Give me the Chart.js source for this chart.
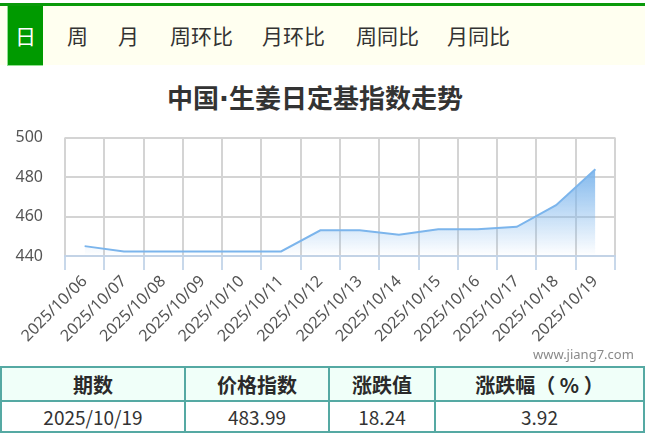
<!DOCTYPE html>
<html>
<head>
<meta charset="utf-8">
<script src="https://cdn.jsdelivr.net/npm/chart.js@4.4.1/dist/chart.umd.min.js"></script>
<style>
    body { margin: 0; width: 645px; height: 440px; position: relative; background: #fff; font-family: "Noto Sans", "Noto Sans CJK SC", sans-serif; color: #333; overflow: hidden; }
    .topline { position: absolute; left: 0; top: 3px; width: 645px; height: 3px; background: #0a9a0a; }
    .nav { position: absolute; left: 0; top: 6px; width: 645px; height: 59px; background: #fffff0; }
    .nav span { position: absolute; top: 0; line-height: 59px; font-size: 21px; font-family: "Noto Sans CJK SC", sans-serif; color: #333; }
    .nav .on { left: 7px; width: 36px; text-align: center; background: #009a00; color: #fff; border-left: 1px solid #8fe08f; border-bottom: 1px solid #8fe08f; box-sizing: border-box; height: 60px; }
    .title { position: absolute; left: 0; top: 78px; width: 630px; text-align: center; font-size: 26px; font-weight: bold; font-family: "Noto Sans CJK SC", sans-serif; color: #333; }
    .title .dot { font-family: "DejaVu Sans", sans-serif; }
    .chartbox { position: absolute; left: 0; top: 106px; width: 645px; height: 244px; }
    .mark { position: absolute; left: 533px; top: 345px; font-size: 13px; color: #8a8a8a; }
    table { position: absolute; left: 0; top: 366px; width: 645px; border-collapse: collapse; }
    td { border: 2px solid #55a9a3; text-align: center; font-family: "Noto Sans CJK SC", sans-serif; }
    tr.head td { background: #f0fff9; font-weight: bold; font-size: 20px; height: 32px; padding: 0; color: #2a2a2a; }
    tr.row td { font-size: 19px; height: 29px; padding: 0; }
</style>
</head>
<body>
<div class="topline"></div>
<div class="nav">
    <span class="on">日</span>
    <span style="left:67px">周</span>
    <span style="left:118px">月</span>
    <span style="left:170px">周环比</span>
    <span style="left:262px">月环比</span>
    <span style="left:356px">周同比</span>
    <span style="left:447px">月同比</span>
</div>
<div class="title">中国<span class="dot">·</span>生姜日定基指数走势</div>
<div class="chartbox"><canvas id="lineChart"></canvas></div>
<div class="mark">www.jiang7.com</div>
<table>
    <tr class="head"><td style="width:182px">期数</td><td style="width:142px">价格指数</td><td style="width:104px">涨跌值</td><td>涨跌幅（ % ）</td></tr>
    <tr class="row"><td>2025/10/19</td><td>483.99</td><td>18.24</td><td>3.92</td></tr>
</table>
<script>
const dates = ['2025/10/06', '2025/10/07', '2025/10/08', '2025/10/09', '2025/10/10', '2025/10/11', '2025/10/12',
    '2025/10/13', '2025/10/14', '2025/10/15', '2025/10/16', '2025/10/17', '2025/10/18', '2025/10/19'];
const indexValues = [445.0, 442.3, 442.3, 442.3, 442.3, 442.3, 453.0, 453.0, 450.8, 453.5, 453.5, 454.8, 465.75, 483.99];
const yTicks = [440, 460, 480, 500];

function areaFill(context) {
    const chart = context.chart;
    const area = chart.chartArea;
    if (!area) return 'rgba(124, 181, 236, 0.5)';
    const top = chart.scales.y.getPixelForValue(Math.max(...indexValues));
    const grad = chart.ctx.createLinearGradient(0, top, 0, area.bottom);
    grad.addColorStop(0, 'rgba(124, 181, 236, 0.95)');
    grad.addColorStop(1, 'rgba(124, 181, 236, 0)');
    return grad;
}

const ctx = document.getElementById('lineChart').getContext('2d');
const lineChart = new Chart(ctx, {
    type: 'line',
    data: {
        labels: dates,
        datasets: [{
            data: indexValues,
            borderColor: '#7cb5ec',
            borderWidth: 2,
            backgroundColor: areaFill,
            fill: 'start',
            tension: 0,
            pointRadius: 0
        }]
    },
    options: {
        responsive: true,
        maintainAspectRatio: false,
        animation: false,
        layout: { padding: { top: 4, right: 30, left: 0, bottom: 0 } },
        plugins: { legend: { display: false }, tooltip: { enabled: false } },
        scales: {
            x: {
                offset: true,
                grid: { offset: true, color: '#d4d4d4', lineWidth: 2, tickColor: '#c8d8ea', tickLength: 14 },
                border: { display: true, color: '#c3d3e6', width: 2 },
                ticks: { color: '#555', font: { size: 16, family: 'Noto Sans' }, minRotation: 45, maxRotation: 45, padding: 2 },
                afterFit: (scale) => { scale.height = 94; }
            },
            y: {
                min: 440,
                max: 500,
                afterBuildTicks: (scale) => { scale.ticks = yTicks.map(v => ({ value: v })); },
                grid: { color: '#d4d4d4', lineWidth: 2, drawTicks: false },
                border: { display: false },
                ticks: { color: '#555', font: { size: 16, family: 'Noto Sans' }, padding: 22 },
                afterFit: (scale) => { scale.width = 65; }
            }
        }
    }
});
</script>
</body>
</html>
